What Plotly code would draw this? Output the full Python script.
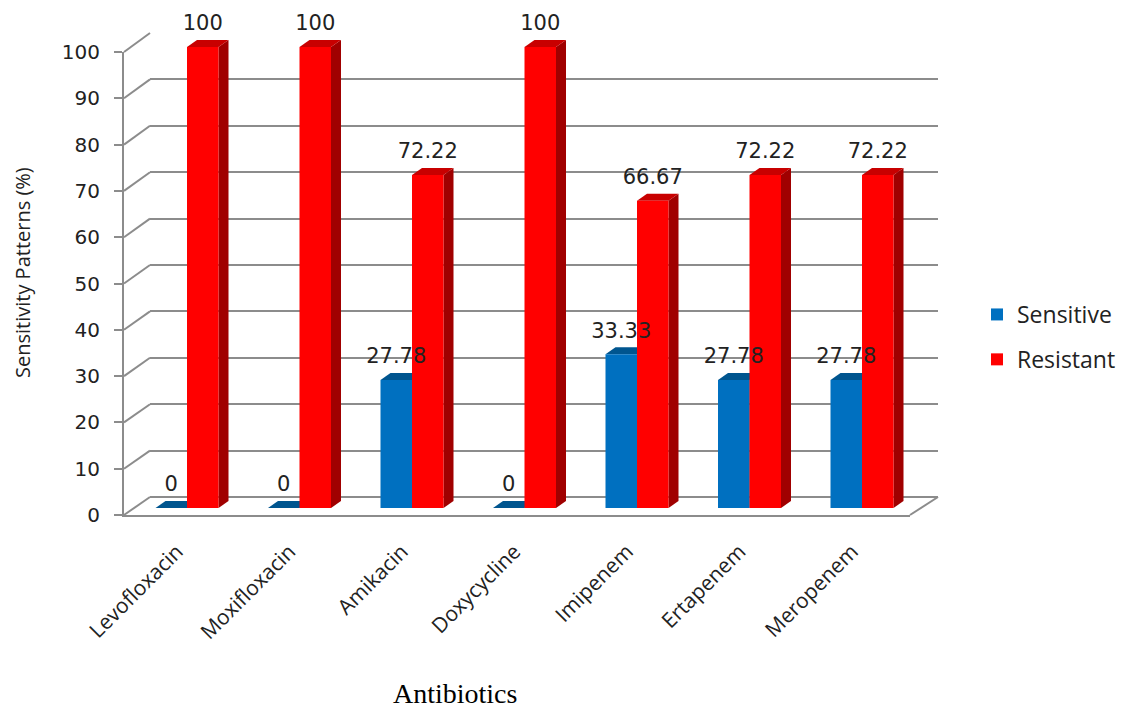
import plotly.graph_objects as go

# ---------------- data ----------------
categories = ["Levofloxacin", "Moxifloxacin", "Amikacin", "Doxycycline",
              "Imipenem", "Ertapenem", "Meropenem"]
sensitive = [0, 0, 27.78, 0, 33.33, 27.78, 27.78]
resistant = [100, 100, 72.22, 100, 66.67, 72.22, 72.22]
y_ticks = [0, 10, 20, 30, 40, 50, 60, 70, 80, 90, 100]

# ---------------- geometry (pixels) ----------------
W, H = 1130, 708
def fx(px): return px / W
def fy(py): return 1 - py / H

# front (axis labels) plane
FX0, FX1, FY0, FY100 = 124, 910, 515, 52
# back wall plane
BX0, BX1, BY0, BY100 = 150, 938, 497, 33
# bar front-face plane
CX0 = 187            # centre of first category (between blue and red)
STEP = 112.5
BY_BAR0, BY_BAR100 = 508, 47
PX_PER_UNIT = (BY_BAR0 - BY_BAR100) / 100
YMAX_BAR = 110
BY_BARTOP = BY_BAR0 - YMAX_BAR * PX_PER_UNIT

n = len(categories)
xpos = list(range(n))
barw = 0.28
ddx = 10 / STEP                 # depth in x units
ddy = 7 / PX_PER_UNIT           # depth in y units
label_off = 22 / PX_PER_UNIT

grid_col = "#8c8c8c"
fig = go.Figure()

# back wall gridlines (xy)
fig.add_trace(go.Scatter(x=[0], y=[None], xaxis="x", yaxis="y",
                         showlegend=False, hoverinfo="skip", mode="markers"))
# front axes (x2y2)
fig.add_trace(go.Scatter(x=xpos, y=[None] * n, xaxis="x2", yaxis="y2",
                         showlegend=False, hoverinfo="skip", mode="markers"))
# y tick label axis (x2y5)
fig.add_trace(go.Scatter(x=xpos, y=[None] * n, xaxis="x2", yaxis="y5",
                         showlegend=False, hoverinfo="skip", mode="markers"))

# 3D faces (x3y3) drawn below bars
def add_faces(vals, left_off, side_col, top_col):
    for i, v in enumerate(vals):
        xl = i + left_off
        xr = xl + barw
        # side face
        fig.add_trace(go.Scatter(
            x=[xr, xr + ddx, xr + ddx, xr, xr],
            y=[0, ddy, v + ddy, v, 0],
            fill="toself", fillcolor=side_col, mode="lines",
            line=dict(width=0, color=side_col), xaxis="x3", yaxis="y3",
            showlegend=False, hoverinfo="skip", cliponaxis=False))
        # top face
        fig.add_trace(go.Scatter(
            x=[xl, xr, xr + ddx, xl + ddx, xl],
            y=[v, v, v + ddy, v + ddy, v],
            fill="toself", fillcolor=top_col, mode="lines",
            line=dict(width=0, color=top_col), xaxis="x3", yaxis="y3",
            showlegend=False, hoverinfo="skip", cliponaxis=False))

add_faces(sensitive, -barw, "#004f8c", "#00558f")
add_faces(resistant, 0, "#a00000", "#c80000")

# bars (x4y4 overlaying x3y3)
fig.add_trace(go.Bar(x=xpos, y=sensitive, name="Sensitive",
                     marker=dict(color="#0070c0", line=dict(width=0)),
                     xaxis="x4", yaxis="y4", legendgroup="s"))
fig.add_trace(go.Bar(x=xpos, y=resistant, name="Resistant",
                     marker=dict(color="#ff0000", line=dict(width=0)),
                     xaxis="x4", yaxis="y4", legendgroup="r"))

# data labels
lab_font = dict(family="DejaVu Sans", size=21, color="#222222")
fig.add_trace(go.Scatter(
    x=[i - barw / 2 for i in xpos], y=[v + label_off for v in sensitive],
    text=[f"{v:g}" for v in sensitive], mode="text", textposition="middle center",
    textfont=lab_font, xaxis="x4", yaxis="y4", showlegend=False, hoverinfo="skip",
    cliponaxis=False))
fig.add_trace(go.Scatter(
    x=[i + barw / 2 for i in xpos], y=[v + label_off for v in resistant],
    text=[f"{v:g}" for v in resistant], mode="text", textposition="middle center",
    textfont=lab_font, xaxis="x4", yaxis="y4", showlegend=False, hoverinfo="skip",
    cliponaxis=False))

# connectors between front axis and back wall + floor right edge
shapes = []
for v in y_ticks:
    yf = FY0 + (FY100 - FY0) * v / 100
    yb = BY0 + (BY100 - BY0) * v / 100
    shapes.append(dict(type="line", xref="paper", yref="paper", layer="below",
                       x0=fx(FX0), y0=fy(yf), x1=fx(BX0), y1=fy(yb),
                       line=dict(color=grid_col, width=2)))
shapes.append(dict(type="line", xref="paper", yref="paper", layer="below",
                   x0=fx(FX1), y0=fy(FY0), x1=fx(BX1), y1=fy(BY0),
                   line=dict(color=grid_col, width=2)))

x3_lo = (CX0 - STEP / 2)
x3_hi = (CX0 + STEP * (n - 1) + STEP / 2)
front_c0 = CX0 - 10

fig.update_layout(
    width=W, height=H, margin=dict(l=0, r=0, t=0, b=0, autoexpand=False),
    paper_bgcolor="white", plot_bgcolor="rgba(0,0,0,0)",
    barmode="group", bargap=0.44, bargroupgap=0,
    showlegend=True,
    legend=dict(x=fx(977), y=fy(293), xanchor="left", yanchor="top",
                font=dict(family="Open Sans", size=23, color="#222222"),
                tracegroupgap=12, bgcolor="rgba(0,0,0,0)"),
    shapes=shapes,
    xaxis=dict(domain=[fx(BX0), fx(BX1)], range=[0, 1], anchor="y", automargin=False,
               showgrid=False, showticklabels=False, zeroline=False, showline=False),
    yaxis=dict(domain=[fy(BY0), fy(BY100)], range=[0, 100], anchor="x", automargin=False,
               tickvals=y_ticks, showgrid=True, gridcolor=grid_col, gridwidth=2,
               zeroline=True, zerolinecolor=grid_col, zerolinewidth=2,
               showticklabels=False, showline=False),
    xaxis2=dict(domain=[fx(FX0), fx(FX1)],
                range=[(FX0 - front_c0) / STEP, (FX1 - front_c0) / STEP],
                anchor="y2", tickvals=xpos, ticktext=categories, tickangle=-45,
                ticks="", showgrid=False, zeroline=False, automargin=False,
                ticklabelstandoff=14,
                showline=True, linecolor=grid_col, linewidth=2,
                tickfont=dict(family="Open Sans", size=21, color="#222222")),
    yaxis2=dict(domain=[fy(FY0), fy(FY100)], range=[0, 100], anchor="x2",
                tickvals=y_ticks, ticks="outside", ticklen=8, tickwidth=2,
                tickcolor=grid_col, showgrid=False, zeroline=False, automargin=False,
                showticklabels=False,
                showline=True, linecolor=grid_col, linewidth=2),
    yaxis5=dict(overlaying="y2", anchor="free", position=fx(100), side="left",
                range=[0, 100], tickvals=y_ticks, ticks="", showgrid=False,
                zeroline=False, showline=False, automargin=False,
                tickfont=dict(family="DejaVu Sans", size=20, color="#222222")),
    xaxis3=dict(domain=[fx(x3_lo), fx(x3_hi)], range=[-0.5, n - 0.5], anchor="y3",
                visible=False, automargin=False),
    yaxis3=dict(domain=[fy(BY_BAR0), fy(BY_BARTOP)], range=[0, YMAX_BAR], anchor="x3",
                visible=False, automargin=False),
    xaxis4=dict(overlaying="x3", range=[-0.5, n - 0.5], anchor="y4", visible=False,
                automargin=False),
    yaxis4=dict(overlaying="y3", range=[0, YMAX_BAR], anchor="x4", visible=False,
                automargin=False),
    annotations=[
        dict(text="Sensitivity Patterns (%)", xref="paper", yref="paper",
             x=fx(22), y=fy(273), xanchor="center", yanchor="middle",
             textangle=-90, showarrow=False,
             font=dict(family="Open Sans", size=20, color="#222222")),
        dict(text="Antibiotics", xref="paper", yref="paper",
             x=fx(455), y=fy(693), xanchor="center", yanchor="middle",
             showarrow=False,
             font=dict(family="Liberation Serif", size=28, color="#000000")),
    ],
)

fig.write_html("out.html")
